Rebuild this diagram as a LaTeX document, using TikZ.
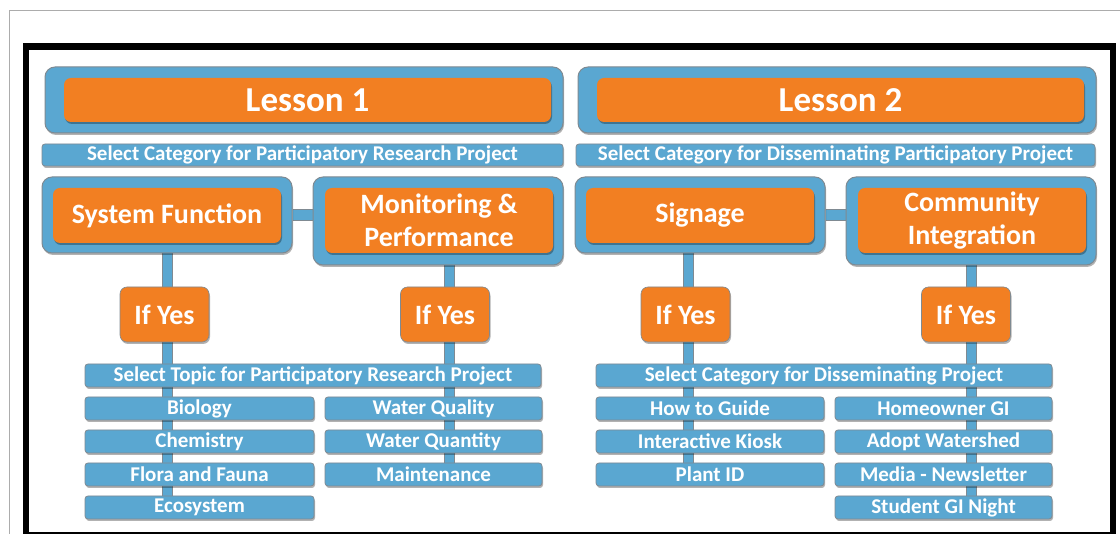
\documentclass[tikz,border=0pt]{standalone}
\usepackage{fontspec}
\setmainfont{Carlito}
\usetikzlibrary{backgrounds,shadows}
\definecolor{bbl}{HTML}{5AA7D1}
\definecolor{oor}{HTML}{F27F22}
\definecolor{edgegray}{HTML}{7F8A92}
\begin{document}
\begin{tikzpicture}[x=1pt,y=-1pt,
  shad/.style={drop shadow={shadow xshift=1pt,shadow yshift=-2pt,opacity=.3,fill=black}},
  outerbox/.style={draw=edgegray,line width=1pt,fill=bbl,rounded corners=10pt,inner sep=0pt,shad},
  innerbox/.style={fill=oor,rounded corners=7pt,inner sep=0pt,text=white,align=center,shad},
  bigtxt/.style={font=\bfseries\fontsize{35}{40}\selectfont},
  midtxt/.style={font=\bfseries\fontsize{28}{33}\selectfont},
  bar/.style={draw=edgegray,line width=0.8pt,fill=bbl,rounded corners=3pt,inner sep=0pt,text=white,
    font=\bfseries\fontsize{21}{21}\selectfont,minimum height=23pt,shad},
  conn/.style={line width=1pt,draw=edgegray,double=bbl,double distance=9pt}
]
\useasboundingbox (0,0) rectangle (1120,534);
\clip (0,0) rectangle (1120,534);
\draw[gray!65,line width=1pt] (9.5,540) -- (9.5,10.5) -- (1125,10.5);
\draw[black,line width=6.5pt] (26,46.5) rectangle (1113,535.5);

% Lesson headers
\node[outerbox,minimum width=518pt,minimum height=66pt] (l1o) at (304,100) {};
\node[innerbox,bigtxt,minimum width=487pt,minimum height=44pt] (l1) at (307.5,100) {Lesson 1};
\node[outerbox,minimum width=518pt,minimum height=66pt] (l2o) at (837,100) {};
\node[innerbox,bigtxt,minimum width=487pt,minimum height=44pt] (l2) at (840.5,100) {Lesson 2};

\node[bar,minimum width=521pt,minimum height=22pt] (sel1) at (302.5,155) {Select Category for Participatory Research Project};
\node[bar,minimum width=519pt,minimum height=22pt] (sel2) at (835.5,155) {Select Category for Disseminating Participatory Project};

% Category boxes
\node[outerbox,minimum width=250pt,minimum height=76pt] (sfo) at (167,215) {};
\node[innerbox,midtxt,minimum width=228pt,minimum height=55pt] (sf) at (167,215.5) {System Function};
\node[outerbox,minimum width=250pt,minimum height=88pt] (mpo) at (438,221) {};
\node[innerbox,midtxt,minimum width=228pt,minimum height=65pt] (mp) at (439,220.5) {Monitoring \&\\Performance};
\node[outerbox,minimum width=250pt,minimum height=76pt] (sgo) at (700,215) {};
\node[innerbox,midtxt,minimum width=228pt,minimum height=55pt] (sg) at (700,215.5) {Signage};
\node[outerbox,minimum width=250pt,minimum height=88pt] (cio) at (971,221) {};
\node[innerbox,midtxt,minimum width=228pt,minimum height=65pt] (ci) at (972,220.5) {Community\\Integration};

% If Yes
\node[innerbox,midtxt,draw=edgegray,line width=0.6pt,minimum width=89pt,minimum height=55pt] (y1) at (164.5,314.5) {If Yes};
\node[innerbox,midtxt,draw=edgegray,line width=0.6pt,minimum width=89pt,minimum height=55pt] (y2) at (445,314.5) {If Yes};
\node[innerbox,midtxt,draw=edgegray,line width=0.6pt,minimum width=89pt,minimum height=55pt] (y3) at (685.5,314.5) {If Yes};
\node[innerbox,midtxt,draw=edgegray,line width=0.6pt,minimum width=89pt,minimum height=55pt] (y4) at (966,314.5) {If Yes};

% Left topic list
\node[bar,minimum width=456pt] (top1) at (313,375.5) {Select Topic for Participatory Research Project};
\node[bar,minimum width=229pt] (bio) at (199.5,408.5) {Biology};
\node[bar,minimum width=229pt] (che) at (199.5,441.5) {Chemistry};
\node[bar,minimum width=229pt] (flo) at (199.5,474.5) {Flora and Fauna};
\node[bar,minimum width=229pt] (eco) at (199.5,507.5) {Ecosystem};
\node[bar,minimum width=217pt] (wql) at (433.5,408.5) {Water Quality};
\node[bar,minimum width=217pt] (wqn) at (433.5,441.5) {Water Quantity};
\node[bar,minimum width=217pt] (mai) at (433.5,474.5) {Maintenance};

% Right category list
\node[bar,minimum width=456pt] (top2) at (824,375.5) {Select Category for Disseminating Project};
\node[bar,minimum width=228pt] (how) at (710,408.5) {How to Guide};
\node[bar,minimum width=228pt] (kio) at (710,441.5) {Interactive Kiosk};
\node[bar,minimum width=228pt] (pid) at (710,474.5) {Plant ID};
\node[bar,minimum width=217pt] (hom) at (943.5,408.5) {Homeowner GI};
\node[bar,minimum width=217pt] (ado) at (943.5,441.5) {Adopt Watershed};
\node[bar,minimum width=217pt] (med) at (943.5,474.5) {Media - Newsletter};
\node[bar,minimum width=217pt] (stu) at (943.5,507.5) {Student GI Night};

% Connectors
\begin{pgfonlayer}{background}
\fill[white] (0,0) rectangle (1120,534);
\draw[conn,double distance=10pt] (sfo.east) -- (sfo.east -| mpo.west);
\draw[conn,double distance=10pt] (sgo.east) -- (sgo.east -| cio.west);
\draw[conn] ([xshift=3pt]y1.north |- sfo.south) -- ([xshift=3pt]y1.north);
\draw[conn] ([xshift=3pt]y1.south) -- ([xshift=3pt]y1.south |- eco.center);
\draw[conn] ([xshift=4pt]y2.north |- mpo.south) -- ([xshift=4pt]y2.north);
\draw[conn] ([xshift=4pt]y2.south) -- ([xshift=4pt]y2.south |- mai.center);
\draw[conn] ([xshift=3pt]y3.north |- sgo.south) -- ([xshift=3pt]y3.north);
\draw[conn] ([xshift=3pt]y3.south) -- ([xshift=3pt]y3.south |- pid.center);
\draw[conn] ([xshift=5pt]y4.north |- cio.south) -- ([xshift=5pt]y4.north);
\draw[conn] ([xshift=5pt]y4.south) -- ([xshift=5pt]y4.south |- stu.center);
\end{pgfonlayer}
\end{tikzpicture}
\end{document}
